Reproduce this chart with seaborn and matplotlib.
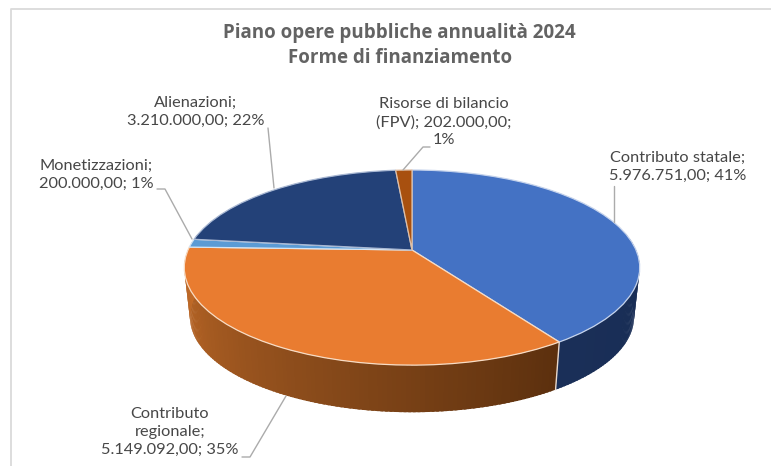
import numpy as np
import matplotlib
matplotlib.use("Agg")
import matplotlib.pyplot as plt
from matplotlib.path import Path
from matplotlib.transforms import Transform
import seaborn as sns

# ---- data ----
categories = ["Contributo statale", "Contributo regionale", "Monetizzazioni",
              "Alienazioni", "Risorse di bilancio (FPV)"]
values = [5976751.00, 5149092.00, 200000.00, 3210000.00, 202000.00]
percent_labels = ["41%", "35%", "1%", "22%", "1%"]
title_lines = ["Piano opere pubbliche annualità 2024", "Forme di finanziamento"]
top_colors = ["#4472C4", "#E97C30", "#5B9BD5", "#234178", "#A8500F"]
side_stops = [["#182C54", "#1A2F58"], ["#5C300E", "#8F4E1C", "#C46C28"],
              ["#3B6A96", "#3B6A96"], ["#16294C", "#16294C"], ["#6B330A", "#6B330A"]]

# ---- style ----
sns.set_theme(style="white")
plt.rcParams["font.family"] = ["Lato", "DejaVu Sans"]
W, H = 771, 466
fig = plt.figure(figsize=(W / 100, H / 100), dpi=100)
ax = fig.add_axes([0, 0, 1, 1])

# ---- perspective of the disc ----
CX, CY, RX, RY, K = 412.0, 250.0, 224.0, 94.4, 0.18
SHRINK, DEPTH = 0.975, 50.0


def project(u, v, f=1.0, dy=0.0):
    s = 1.0 / (1.0 + K * v)
    return CX + f * RX * u * s, CY + dy - f * RY * v * s


class DiscTransform(Transform):
    input_dims = output_dims = 2

    def transform_non_affine(self, xy):
        xy = np.asarray(xy, dtype=float)
        x, y = project(xy[:, 0], xy[:, 1])
        return np.column_stack([x, y])

    def transform_path_non_affine(self, path):
        return Path(self.transform_non_affine(path.vertices), path.codes)


palette = sns.color_palette(top_colors)
wedges, _ = ax.pie(values, colors=palette, startangle=90, counterclock=False,
                   radius=1.0, wedgeprops=dict(linewidth=0.9, zorder=3))
disc = DiscTransform()
edge_tints = ["#C5D3EC", "#F8DCC4", "#D5E5F4", "#A9B8D3", "#E0BFA5"]
for w, tint in zip(wedges, edge_tints):
    w.set_transform(disc + ax.transData)
    w.set_edgecolor(tint)

ax.set_aspect("auto")
ax.set_xlim(0, W)
ax.set_ylim(H, 0)
ax.set_axis_off()

# ---- extruded rim, driven by the slice angles ----
shares = np.array(values) / np.sum(values)
edges = np.concatenate([[0.0], np.cumsum(shares)]) * 2 * np.pi
VIS0, VIS1 = np.radians(78), np.radians(282)
for i in range(len(values)):
    a0, a1 = max(edges[i], VIS0), min(edges[i + 1], VIS1)
    if a1 <= a0:
        continue
    n = max(2, int(np.degrees(a1 - a0)))
    th = np.linspace(a0, a1, n + 1)
    ramp = sns.blend_palette(side_stops[i], n)
    step = th[1] - th[0]
    for j in range(n):
        end = th[j + 1] + (step * 0.6 if j < n - 1 else 0.0)
        t = np.linspace(th[j], end, 4)
        xt, yt = project(np.sin(t), np.cos(t))
        xb, yb = project(np.sin(t), np.cos(t), SHRINK, DEPTH)
        ax.fill(np.r_[xt, xb[::-1]], np.r_[yt, yb[::-1]], color=ramp[j],
                lw=0, zorder=1)

# seam between the two visible rim slices
seam = edges[1]
xs0, ys0 = project(np.sin(seam), np.cos(seam))
xs1, ys1 = project(np.sin(seam), np.cos(seam), SHRINK, DEPTH)
ax.plot([xs0, xs1], [ys0, ys1], color="#E8D8CC", lw=1.0, zorder=2)

# ---- frame of the pasted picture ----
ax.plot([10.5, 10.5, W], [H, 8.5, 8.5], color="#DADADA", lw=1.3, zorder=0)


# ---- text ----
def money(v):
    return f"{v:,.2f}".replace(",", "§").replace(".", ",").replace("§", ".")


TXT = "#474747"
ax.text(399, 33, title_lines[0], ha="center", va="center", fontsize=13.5,
        fontweight="bold", color="#636363", family="Open Sans")
ax.text(400, 58, title_lines[1], ha="center", va="center", fontsize=13.5,
        fontweight="bold", color="#636363", family="Open Sans")

label_text = [
    f"{categories[0]};\n{money(values[0])}; {percent_labels[0]}",
    f"Contributo\nregionale;\n{money(values[1])}; {percent_labels[1]}",
    f"{categories[2]};\n{money(values[2])}; {percent_labels[2]}",
    f"{categories[3]};\n{money(values[3])}; {percent_labels[3]}",
    f"Risorse di bilancio\n(FPV); {money(values[4])};\n{percent_labels[4]}",
]
label_xy = [(678, 167), (170, 432), (96, 175), (196, 112), (444, 122)]
for s, (x, y) in zip(label_text, label_xy):
    ax.text(x, y, s, ha="center", va="center", fontsize=11.8, color=TXT,
            linespacing=1.32, zorder=5)

leaders = [
    [(614, 186), (614, 222)],
    [(242, 457), (250, 457), (286, 396)],
    [(157, 189), (165, 189), (192, 239)],
    [(268, 128), (274, 188)],
    [(430, 147), (423, 147), (403, 170)],
]
for pts in leaders:
    xs, ys = zip(*pts)
    ax.plot(xs, ys, color="#ABABAB", lw=1.0, zorder=4)

fig.savefig("out.png", dpi=100, facecolor="white")
